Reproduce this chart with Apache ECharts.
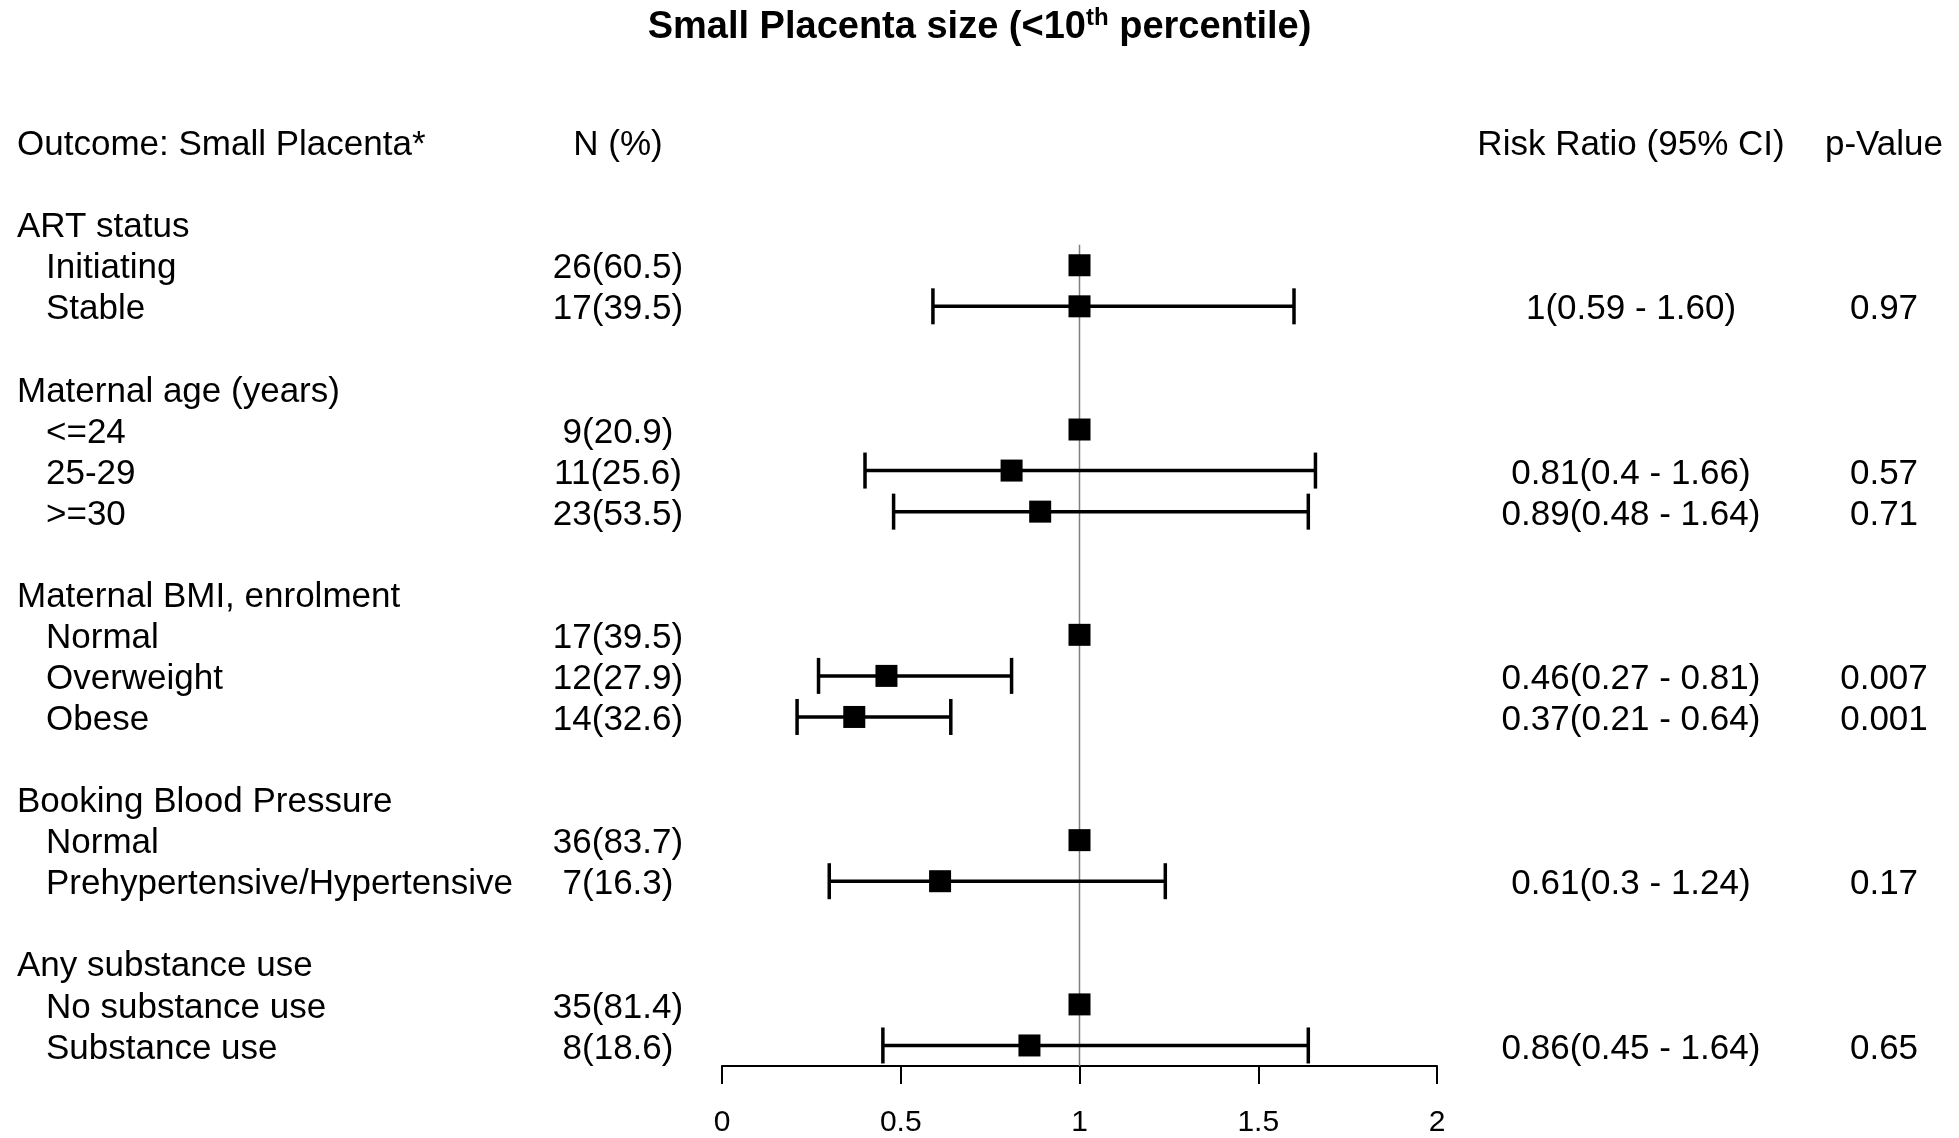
<!DOCTYPE html>
<html>
<head>
<meta charset="utf-8">
<script src="https://cdn.jsdelivr.net/npm/echarts@6/dist/echarts.min.js"></script>
<style>
html,body{margin:0;padding:0;background:#fff;}
#chart{width:1959px;height:1138px;}
</style>
</head>
<body>
<div id="chart"></div>
<script>
// ---------- data ----------
const headers = ['Outcome: Small Placenta*', 'N (%)', 'Risk Ratio (95% CI)', 'p-Value'];
const groups = ['ART status', 'Maternal age (years)', 'Maternal BMI, enrolment', 'Booking Blood Pressure', 'Any substance use'];
const groupRows = [0, 4, 9, 14, 18];
const categories = ['Initiating', 'Stable', '<=24', '25-29', '>=30', 'Normal', 'Overweight', 'Obese', 'Normal', 'Prehypertensive/Hypertensive', 'No substance use', 'Substance use'];
const catRows = [1, 2, 5, 6, 7, 10, 11, 12, 15, 16, 19, 20];
const nPct = ['26(60.5)', '17(39.5)', '9(20.9)', '11(25.6)', '23(53.5)', '17(39.5)', '12(27.9)', '14(32.6)', '36(83.7)', '7(16.3)', '35(81.4)', '8(18.6)'];
const riskRatio = [1, 1, 1, 0.81, 0.89, 1, 0.46, 0.37, 1, 0.61, 1, 0.86];
const ciLower = [null, 0.59, null, 0.4, 0.48, null, 0.27, 0.21, null, 0.3, null, 0.45];
const ciUpper = [null, 1.60, null, 1.66, 1.64, null, 0.81, 0.64, null, 1.24, null, 1.64];
const rrText = ['', '1(0.59 - 1.60)', '', '0.81(0.4 - 1.66)', '0.89(0.48 - 1.64)', '', '0.46(0.27 - 0.81)', '0.37(0.21 - 0.64)', '', '0.61(0.3 - 1.24)', '', '0.86(0.45 - 1.64)'];
const pValues = ['', '0.97', '', '0.57', '0.71', '', '0.007', '0.001', '', '0.17', '', '0.65'];
const headerRow = -2;
const refValue = 1;
const refLineRows = [0.5, 20.5];

// ---------- layout ----------
const FONT = "'Liberation Sans', Arial, Helvetica, sans-serif";
const COL_GROUP_X = 17;
const COL_CAT_X = 46;
const COL_N_X = 618;
const COL_RR_X = 1631;
const COL_P_X = 1884;
const BODY_SIZE = 35;
const TEXT_DY = 3.5;

// text table rows
const textRows = [];
textRows.push({row: headerRow, label: headers[0], x: COL_GROUP_X, n: headers[1], rr: headers[2], p: headers[3]});
groups.forEach((g, i) => textRows.push({row: groupRows[i], label: g, x: COL_GROUP_X, n: '', rr: '', p: ''}));
categories.forEach((c, i) => textRows.push({row: catRows[i], label: c, x: COL_CAT_X, n: nPct[i], rr: rrText[i], p: pValues[i]}));

const ciData = [];
categories.forEach((c, i) => {
  if (ciLower[i] != null) ciData.push([riskRatio[i], ciLower[i], ciUpper[i], catRows[i]]);
});
const pointData = categories.map((c, i) => [riskRatio[i], catRows[i]]);

const chart = echarts.init(document.getElementById('chart'), null, {renderer: 'canvas'});

function txt(x, y, s, align) {
  return {
    type: 'text',
    x: x, y: y + TEXT_DY,
    style: {text: s, x: 0, y: 0, align: align, verticalAlign: 'middle', font: BODY_SIZE + 'px ' + FONT, fill: '#000'}
  };
}

const option = {
  backgroundColor: '#fff',
  animation: false,
  title: {
    text: '{a|Small Placenta size (<10}{s|th}{a| percentile)}',
    left: 'center',
    top: 1,
    textStyle: {
      rich: {
        a: {fontFamily: FONT, fontWeight: 'bold', fontSize: 38, color: '#000', lineHeight: 44},
        s: {fontFamily: FONT, fontWeight: 'bold', fontSize: 24, color: '#000', lineHeight: 44, verticalAlign: 'top', padding: [0, 0, 14, 0]}
      }
    }
  },
  grid: {left: 722, right: 522, top: 101, bottom: 70.5, containLabel: false},
  xAxis: {
    type: 'value', min: 0, max: 2, interval: 0.5,
    axisLine: {show: true, onZero: false, lineStyle: {color: '#000', width: 2}},
    axisTick: {show: true, length: 18, lineStyle: {color: '#000', width: 2}},
    axisLabel: {fontFamily: FONT, fontSize: 30, color: '#000', margin: 42},
    splitLine: {show: false}
  },
  yAxis: {
    type: 'value', inverse: true, min: -3, max: 20.5, show: false,
    splitLine: {show: false}
  },
  series: [
    {
      type: 'line',
      data: refLineRows.map(r => [refValue, r]),
      symbol: 'none',
      lineStyle: {color: '#808080', width: 1.5},
      z: 1, silent: true
    },
    {
      type: 'custom',
      data: ciData,
      encode: {x: [0, 1, 2], y: 3},
      renderItem: function (params, api) {
        const row = api.value(3);
        const lo = api.coord([api.value(1), row]);
        const hi = api.coord([api.value(2), row]);
        const capH = 18;
        const ls = {stroke: '#000', lineWidth: 3.5};
        return {
          type: 'group',
          children: [
            {type: 'line', shape: {x1: lo[0], y1: lo[1], x2: hi[0], y2: hi[1]}, style: ls},
            {type: 'line', shape: {x1: lo[0], y1: lo[1] - capH, x2: lo[0], y2: lo[1] + capH}, style: ls},
            {type: 'line', shape: {x1: hi[0], y1: hi[1] - capH, x2: hi[0], y2: hi[1] + capH}, style: ls}
          ]
        };
      },
      z: 2, silent: true
    },
    {
      type: 'scatter',
      data: pointData,
      symbol: 'rect',
      symbolSize: 22,
      itemStyle: {color: '#000', opacity: 1},
      z: 3, silent: true
    },
    {
      type: 'custom',
      clip: false,
      data: textRows.map(r => [0, r.row]),
      encode: {x: 0, y: 1},
      renderItem: function (params, api) {
        const r = textRows[params.dataIndex];
        const y = api.coord([0, api.value(1)])[1];
        const children = [txt(r.x, y, r.label, 'left')];
        if (r.n) children.push(txt(COL_N_X, y, r.n, 'center'));
        if (r.rr) children.push(txt(COL_RR_X, y, r.rr, 'center'));
        if (r.p) children.push(txt(COL_P_X, y, r.p, 'center'));
        return {type: 'group', children: children};
      },
      z: 4, silent: true
    }
  ]
};
chart.setOption(option);
</script>
</body>
</html>
